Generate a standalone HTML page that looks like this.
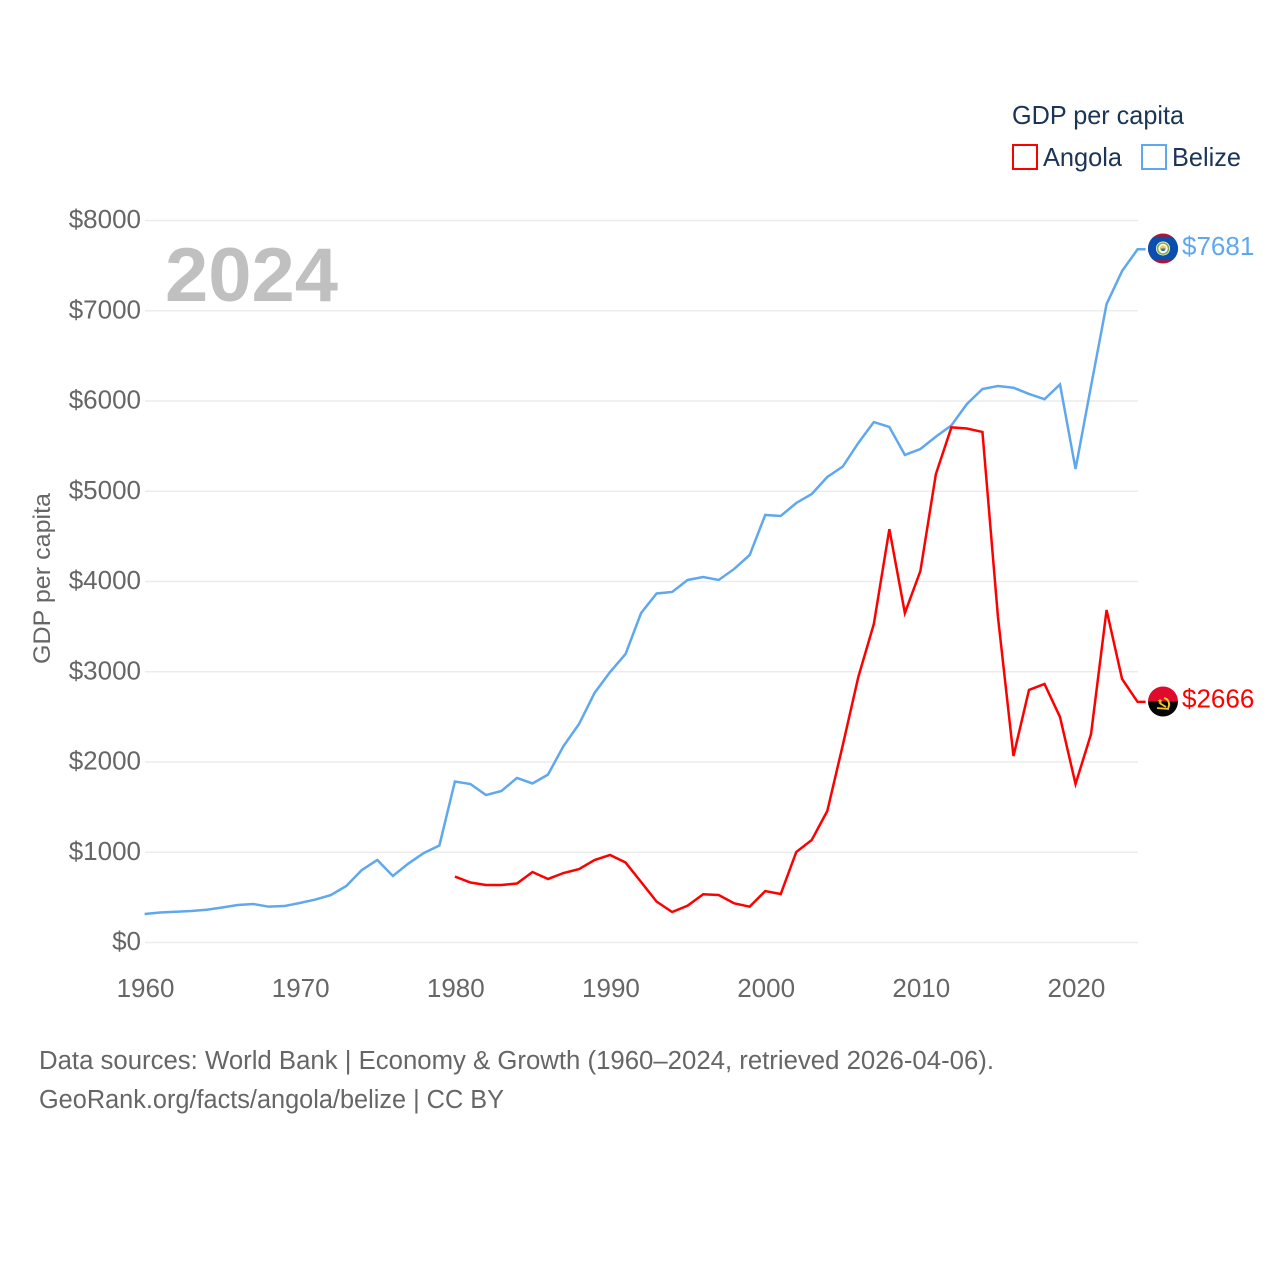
<!DOCTYPE html>
<html lang="en">
<head>
<meta charset="utf-8">
<title>GDP per capita: Angola and Belize</title>
<style>
html,body{margin:0;padding:0;background:#fff;}
svg{display:block;font-family:"Liberation Sans",sans-serif;}
</style>
</head>
<body>
<svg id="chart" xmlns="http://www.w3.org/2000/svg" width="1280" height="1280" viewBox="0 0 1280 1280">
  <defs>
    <clipPath id="belize-clip"><circle cx="0" cy="0" r="15"/></clipPath>
    <clipPath id="angola-clip"><circle cx="0" cy="0" r="15"/></clipPath>
  </defs>
  <rect width="1280" height="1280" fill="#fff"/>

  <g id="grid"></g>
  <g id="y-ticks"></g>
  <g id="x-ticks"></g>

  <text transform="translate(50,578.5) rotate(-90)" text-anchor="middle" font-size="24" fill="#666" textLength="171" lengthAdjust="spacingAndGlyphs">GDP per capita</text>
  <text x="165" y="301" font-size="76" font-weight="700" fill="#c0c0c0" textLength="173" lengthAdjust="spacingAndGlyphs">2024</text>

  <g id="series"></g>

  <g transform="translate(1163,248.5)">
    <g clip-path="url(#belize-clip)">
      <rect x="-16" y="-16" width="32" height="32" fill="#b5122b"/>
      <rect x="-16" y="-11.8" width="32" height="23.6" fill="#0a4fb0"/>
      <circle r="7" fill="#fff"/>
      <circle r="5.5" fill="none" stroke="#7fae3c" stroke-width="1.6"/>
      <path d="M-3.2 0a3.2 3.2 0 0 1 6.4 0z" fill="#f2c94c"/>
      <path d="M-2.6 0h5.2a2.6 2.6 0 0 1-5.2 0z" fill="#2f6fbd"/>
    </g>
  </g>
  <g transform="translate(1163,701.5)">
    <g clip-path="url(#angola-clip)">
      <rect x="-16" y="-16" width="32" height="16" fill="#e00a2e"/>
      <rect x="-16" y="0" width="32" height="16" fill="#050505"/>
      <path d="M1 -3.5a6.5 6.5 0 0 1 4 10" fill="none" stroke="#f5c62f" stroke-width="2"/>
      <path d="M-6 6.5L6 7.5" fill="none" stroke="#f5c62f" stroke-width="1.8"/>
      <path d="M-3.5 1.5L3 5.5" fill="none" stroke="#f5c62f" stroke-width="1.8"/>
      <path d="M-3 -3l.8 1.7 1.8 .2-1.4 1.1 .5 1.8-1.7-1-1.6 1 .5-1.8-1.4-1.1 1.8-.2z" fill="#f5c62f"/>
    </g>
  </g>

  <g>
    <text x="1012" y="124" font-size="26" fill="#1b3557" textLength="172" lengthAdjust="spacingAndGlyphs">GDP per capita</text>
    <g>
      <rect x="1013" y="145" width="24" height="24" fill="none" stroke="#ff0000" stroke-width="2"/>
      <text x="1043" y="166" font-size="26" fill="#1b3557" textLength="79" lengthAdjust="spacingAndGlyphs">Angola</text>
    </g>
    <g>
      <rect x="1142" y="145" width="24" height="24" fill="none" stroke="#5fa8ee" stroke-width="2"/>
      <text x="1172" y="166" font-size="26" fill="#1b3557" textLength="69" lengthAdjust="spacingAndGlyphs">Belize</text>
    </g>
  </g>

  <text x="39" y="1069" font-size="25.5" fill="#666" textLength="955" lengthAdjust="spacingAndGlyphs">Data sources: World Bank | Economy &amp; Growth (1960–2024, retrieved 2026-04-06).</text>
  <text x="39" y="1108" font-size="25.5" fill="#666" textLength="465" lengthAdjust="spacingAndGlyphs">GeoRank.org/facts/angola/belize | CC BY</text>
</svg>
<script>
const years = [1960,1961,1962,1963,1964,1965,1966,1967,1968,1969,1970,1971,1972,1973,1974,1975,1976,1977,1978,1979,1980,1981,1982,1983,1984,1985,1986,1987,1988,1989,1990,1991,1992,1993,1994,1995,1996,1997,1998,1999,2000,2001,2002,2003,2004,2005,2006,2007,2008,2009,2010,2011,2012,2013,2014,2015,2016,2017,2018,2019,2020,2021,2022,2023,2024];
const belizeValues = [316,332,341,349,363,388,415,427,397,404,438,476,526,626,803,914,737,875,992,1075,1784,1756,1634,1679,1823,1762,1861,2177,2421,2765,2997,3197,3651,3867,3884,4017,4050,4017,4139,4294,4737,4726,4870,4970,5158,5274,5535,5767,5712,5402,5468,5605,5730,5967,6133,6166,6147,6078,6020,6183,5247,6166,7074,7440,7681];
const angolaValues = [null,null,null,null,null,null,null,null,null,null,null,null,null,null,null,null,null,null,null,null,731,665,637,637,654,781,704,770,814,914,970,886,670,453,338,408,535,526,434,397,570,537,1003,1136,1457,2188,2942,3529,4580,3651,4116,5191,5708,5695,5657,3607,2066,2798,2864,2498,1756,2310,3684,2920,2666];
const yTickValues = [0,1000,2000,3000,4000,5000,6000,7000,8000];
const xTickValues = [1960,1970,1980,1990,2000,2010,2020];

const NS = 'http://www.w3.org/2000/svg';
const plotLeft = 144.6, plotRight = 1137.6, plotBottom = 942.5, plotTop = 220.5;
function xScale(year) {
  return plotLeft + (year - 1960) / (2024 - 1960) * (plotRight - plotLeft);
}
function yScale(value) {
  return plotBottom - value / 8000 * (plotBottom - plotTop);
}
function make(tag, attrs, parent, text) {
  const el = document.createElementNS(NS, tag);
  Object.keys(attrs).forEach(function (k) { el.setAttribute(k, attrs[k]); });
  if (text !== undefined) el.textContent = text;
  parent.appendChild(el);
  return el;
}

const grid = document.getElementById('grid');
const yAxis = document.getElementById('y-ticks');
const xAxis = document.getElementById('x-ticks');
const seriesGroup = document.getElementById('series');
const chart = document.getElementById('chart');

yTickValues.forEach(function (v) {
  const line = make('line', {x1: 145, x2: 1138, y1: yScale(v), y2: yScale(v), stroke: '#ececec', 'stroke-width': 1.5}, grid);
  
  
  const label = make('text', {x: 141, y: yScale(v) + 7.5, 'text-anchor': 'end', 'font-size': 26, fill: '#666'}, yAxis, '$' + v);
  
  
});

xTickValues.forEach(function (y) {
  const label = make('text', {x: xScale(y) + 0.9, y: 997, 'text-anchor': 'middle', 'font-size': 26, fill: '#666'}, xAxis, String(y));
  
  
});

function pathFor(values) {
  let d = '';
  let lastX = 0, lastY = 0;
  values.forEach(function (v, i) {
    if (v === null) return;
    lastX = xScale(years[i]);
    lastY = yScale(v);
    d += (d ? 'L' : 'M') + lastX.toFixed(2) + ' ' + lastY.toFixed(2);
  });
  d += 'L' + (lastX + 8).toFixed(2) + ' ' + lastY.toFixed(2);
  return d;
}

const belizeLine = make('path', {d: pathFor(belizeValues), fill: 'none', stroke: '#5fa8ee', 'stroke-width': 2.5, 'stroke-linejoin': 'miter'}, seriesGroup);



const angolaLine = make('path', {d: pathFor(angolaValues), fill: 'none', stroke: '#ff0000', 'stroke-width': 2.5, 'stroke-linejoin': 'miter'}, seriesGroup);



const belizeLast = belizeValues[belizeValues.length - 1];
const angolaLast = angolaValues[angolaValues.length - 1];

const belizeEnd = make('text', {x: 1182, y: yScale(belizeLast) + 5.5, 'font-size': 26, fill: '#5fa8ee'}, chart, '$' + belizeLast);



const angolaEnd = make('text', {x: 1182, y: yScale(angolaLast) + 5.5, 'font-size': 26, fill: '#ff0000'}, chart, '$' + angolaLast);


</script>
</body>
</html>
